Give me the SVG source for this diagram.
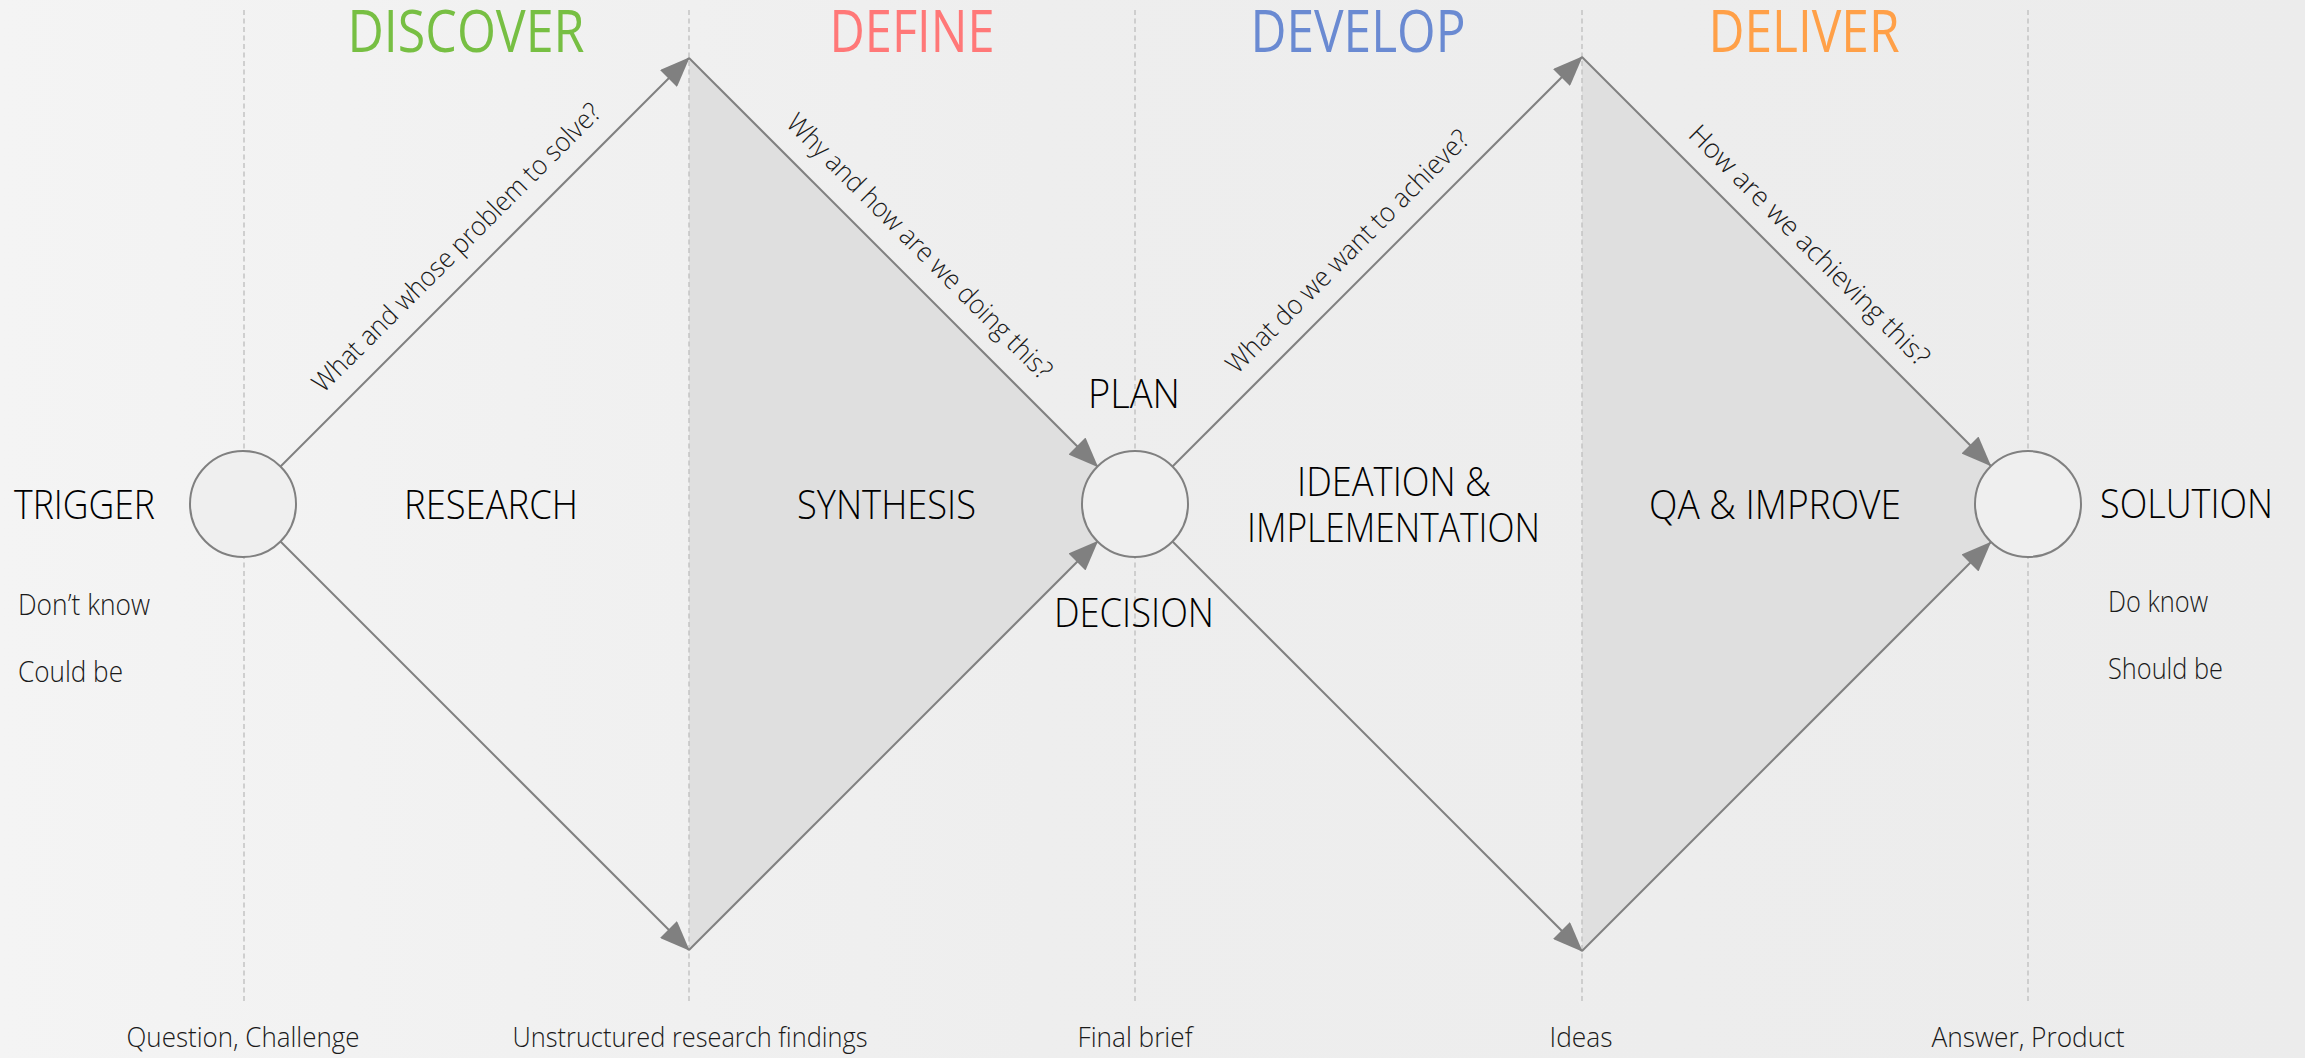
<svg xmlns="http://www.w3.org/2000/svg" width="2305" height="1058" viewBox="0 0 2305 1058">
  <defs>
    <linearGradient id="bg" x1="0" y1="0" x2="1" y2="0">
      <stop offset="0" stop-color="#f4f4f4"/>
      <stop offset="0.45" stop-color="#eeeeee"/>
      <stop offset="1" stop-color="#ececec"/>
    </linearGradient>
    <marker id="ah" markerUnits="userSpaceOnUse" viewBox="0 0 30 24" markerWidth="30" markerHeight="24" refX="29" refY="12" orient="auto">
      <path d="M0,0 L30,12 L0,24 z" fill="#808080"/>
    </marker>
    <style>
      .dash { stroke:#c3c3c3; stroke-width:1.5; stroke-dasharray:5 3.5; fill:none; }
      .conn { stroke:#808080; stroke-width:2; fill:none; marker-end:url(#ah); }
      .shade { fill:#dfdfdf; stroke:none; }
      .node { fill:#efefef; stroke:#808080; stroke-width:2; }
      text { font-family:'Open Sans','Liberation Sans',sans-serif; }
      .title { font-size:58px; font-weight:400; text-anchor:middle; }
      .label { font-size:40px; font-weight:300; fill:#000000; }
      .small { font-size:29px; font-weight:300; fill:#1a1a1a; }
      .q { font-size:27px; font-weight:300; fill:#1a1a1a; text-anchor:middle; }
      .bottom { font-size:28px; font-weight:300; fill:#1a1a1a; text-anchor:middle; }
    </style>
  </defs>

  <rect x="0" y="0" width="2305" height="1058" fill="url(#bg)"/>

  <g id="shading">
    <polygon class="shade" points="689,58 1135,504 689,950"/>
    <polygon class="shade" points="1582,57 2028,504 1582,951"/>
  </g>

  <g id="phase-dividers">
    <line class="dash" x1="244" y1="10" x2="244" y2="1001"/>
    <line class="dash" x1="689" y1="10" x2="689" y2="1001"/>
    <line class="dash" x1="1135" y1="10" x2="1135" y2="1001"/>
    <line class="dash" x1="1582" y1="10" x2="1582" y2="1001"/>
    <line class="dash" x1="2028" y1="10" x2="2028" y2="1001"/>
  </g>

  <g id="titles">
    <text class="title" x="466" y="52" fill="#77bf43" textLength="237" lengthAdjust="spacingAndGlyphs">DISCOVER</text>
    <text class="title" x="912" y="52" fill="#ff7878" textLength="165" lengthAdjust="spacingAndGlyphs">DEFINE</text>
    <text class="title" x="1358" y="52" fill="#6a8ad2" textLength="215" lengthAdjust="spacingAndGlyphs">DEVELOP</text>
    <text class="title" x="1804" y="52" fill="#ffa048" textLength="191" lengthAdjust="spacingAndGlyphs">DELIVER</text>
  </g>

  <g id="connectors">
    <line class="conn" x1="280.5" y1="466.5" x2="689" y2="58"/>
    <line class="conn" x1="280.5" y1="541.5" x2="689" y2="950"/>
    <line class="conn" x1="689" y1="58" x2="1097.5" y2="466.5"/>
    <line class="conn" x1="689" y1="950" x2="1097.5" y2="541.5"/>
    <line class="conn" x1="1172.5" y1="466.5" x2="1582" y2="57"/>
    <line class="conn" x1="1172.5" y1="541.5" x2="1582" y2="951"/>
    <line class="conn" x1="1582" y1="57" x2="1990.5" y2="465.5"/>
    <line class="conn" x1="1582" y1="951" x2="1990.5" y2="542.5"/>
  </g>

  <g id="connector-labels">
    <text class="q" transform="translate(463,254) rotate(-45)" textLength="395" lengthAdjust="spacingAndGlyphs">What and whose problem to solve?</text>
    <text class="q" transform="translate(913,253) rotate(45)" textLength="363" lengthAdjust="spacingAndGlyphs">Why and how are we doing this?</text>
    <text class="q" transform="translate(1354,258) rotate(-45)" textLength="331" lengthAdjust="spacingAndGlyphs">What do we want to achieve?</text>
    <text class="q" transform="translate(1803,252) rotate(45)" textLength="328" lengthAdjust="spacingAndGlyphs">How are we achieving this?</text>
  </g>

  <g id="trigger">
    <circle class="node" cx="243" cy="504" r="53"/>
    <text class="label" x="14" y="519" textLength="141" lengthAdjust="spacingAndGlyphs">TRIGGER</text>
    <text class="small" x="18" y="615" textLength="132" lengthAdjust="spacingAndGlyphs">Don’t know</text>
    <text class="small" x="18" y="682" textLength="105" lengthAdjust="spacingAndGlyphs">Could be</text>
  </g>

  <g id="research">
    <text class="label" x="404" y="519" textLength="174" lengthAdjust="spacingAndGlyphs">RESEARCH</text>
  </g>

  <g id="synthesis">
    <text class="label" x="797" y="519" textLength="179" lengthAdjust="spacingAndGlyphs">SYNTHESIS</text>
  </g>

  <g id="plan-decision">
    <circle class="node" cx="1135" cy="504" r="53"/>
    <text class="label" x="1088" y="408" textLength="92" lengthAdjust="spacingAndGlyphs">PLAN</text>
    <text class="label" x="1054" y="627" textLength="160" lengthAdjust="spacingAndGlyphs">DECISION</text>
  </g>

  <g id="ideation">
    <text class="label" x="1297" y="496" textLength="194" lengthAdjust="spacingAndGlyphs">IDEATION &amp;</text>
    <text class="label" x="1247" y="542" textLength="293" lengthAdjust="spacingAndGlyphs">IMPLEMENTATION</text>
  </g>

  <g id="qa-improve">
    <text class="label" x="1649" y="519" textLength="252" lengthAdjust="spacingAndGlyphs">QA &amp; IMPROVE</text>
  </g>

  <g id="solution">
    <circle class="node" cx="2028" cy="504" r="53"/>
    <text class="label" x="2100" y="518" textLength="173" lengthAdjust="spacingAndGlyphs">SOLUTION</text>
    <text class="small" x="2108" y="612" textLength="100" lengthAdjust="spacingAndGlyphs">Do know</text>
    <text class="small" x="2108" y="679" textLength="115" lengthAdjust="spacingAndGlyphs">Should be</text>
  </g>

  <g id="outputs">
    <text class="bottom" x="243" y="1047" textLength="233" lengthAdjust="spacingAndGlyphs">Question, Challenge</text>
    <text class="bottom" x="690" y="1047" textLength="355" lengthAdjust="spacingAndGlyphs">Unstructured research findings</text>
    <text class="bottom" x="1135" y="1047" textLength="115" lengthAdjust="spacingAndGlyphs">Final brief</text>
    <text class="bottom" x="1581" y="1047" textLength="63" lengthAdjust="spacingAndGlyphs">Ideas</text>
    <text class="bottom" x="2028" y="1047" textLength="193" lengthAdjust="spacingAndGlyphs">Answer, Product</text>
  </g>
</svg>
